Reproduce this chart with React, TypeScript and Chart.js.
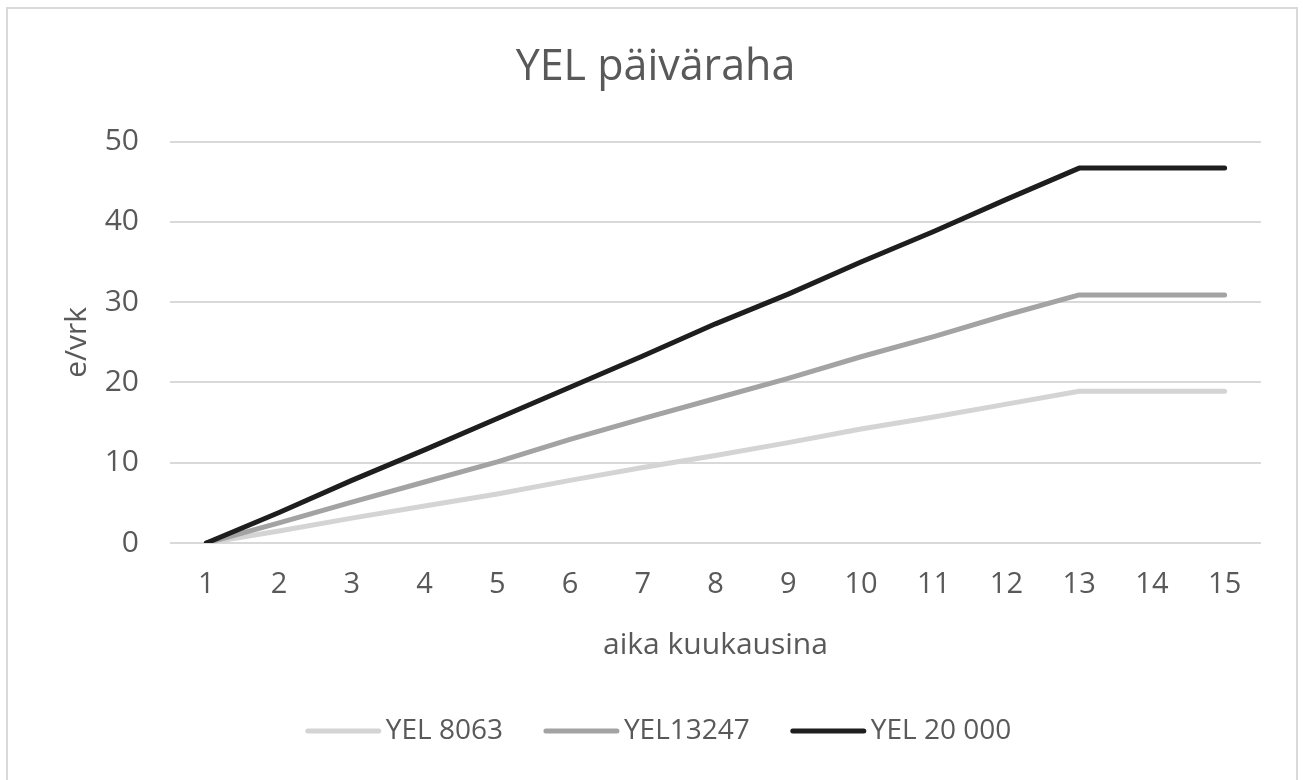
import React, { useEffect, useRef } from "react";
import { Chart, registerables } from "chart.js";

Chart.register(...registerables);

const TITLE = "YEL päiväraha";
const X_TITLE = "aika kuukausina";
const Y_TITLE = "e/vrk";
const months = ["1", "2", "3", "4", "5", "6", "7", "8", "9", "10", "11", "12", "13", "14", "15"];
const seriesNames = ["YEL 8063", "YEL13247", "YEL 20 000"];
const yel8063 = [0, 1.5, 3.1, 4.6, 6.1, 7.8, 9.4, 10.9, 12.5, 14.2, 15.7, 17.3, 18.9, 18.9, 18.9];
const yel13247 = [0, 2.5, 5.1, 7.6, 10.1, 12.9, 15.5, 18.0, 20.5, 23.2, 25.7, 28.4, 30.9, 30.9, 30.9];
const yel20000 = [0, 3.8, 7.8, 11.6, 15.5, 19.4, 23.3, 27.3, 31.0, 35.0, 38.8, 42.8, 46.7, 46.7, 46.7];
const yTicks = [0, 10, 20, 30, 40, 50];

const FONT = "'Open Sans', sans-serif";
const TEXT = "#595959";
const COLORS = ["#d4d4d4", "#a3a3a3", "#1e1e1e"];

const borderPlugin = {
  id: "outerBorder",
  beforeDraw(chart: any) {
    const { ctx, width, height } = chart;
    ctx.save();
    ctx.fillStyle = "#ffffff";
    ctx.fillRect(0, 0, width, height);
    ctx.strokeStyle = "#d9d9d9";
    ctx.lineWidth = 2;
    ctx.strokeRect(7, 8, width - 13, height + 10);
    ctx.restore();
  },
};

const legendPlugin = {
  id: "customLegend",
  afterDraw(chart: any) {
    const { ctx, width } = chart;
    const lineLen = 75;
    const textGap = 5;
    const itemGap = 41;
    const y = 731;
    ctx.save();
    ctx.font = `28px ${FONT}`;
    ctx.textBaseline = "middle";
    ctx.textAlign = "left";
    const ds = chart.data.datasets;
    const widths = ds.map((d: any) => ctx.measureText(d.label).width);
    let total = 0;
    widths.forEach((w: number, i: number) => {
      total += lineLen + textGap + w + (i < widths.length - 1 ? itemGap : 0);
    });
    let x = width / 2 + 7 - total / 2;
    ds.forEach((d: any, i: number) => {
      ctx.strokeStyle = d.borderColor;
      ctx.lineWidth = 5;
      ctx.lineCap = "round";
      ctx.beginPath();
      ctx.moveTo(x + 2, y);
      ctx.lineTo(x + lineLen - 2, y);
      ctx.stroke();
      ctx.fillStyle = TEXT;
      ctx.fillText(d.label, x + lineLen + textGap, y);
      x += lineLen + textGap + widths[i] + itemGap;
    });
    ctx.restore();
  },
};

export default function App() {
  const canvasRef = useRef<HTMLCanvasElement | null>(null);

  useEffect(() => {
    if (!canvasRef.current) return;
    Chart.defaults.font.family = FONT;
    Chart.defaults.color = TEXT;
    const values = [yel8063, yel13247, yel20000];
    const chart = new Chart(canvasRef.current, {
      type: "line",
      data: {
        labels: months,
        datasets: seriesNames.map((name, i) => ({
          label: name,
          data: values[i],
          borderColor: COLORS[i],
          backgroundColor: COLORS[i],
          borderWidth: 5,
          pointRadius: 0,
          pointHoverRadius: 0,
          tension: 0,
          borderCapStyle: "round" as const,
          borderJoinStyle: "round" as const,
          fill: false,
          order: 2 - i,
        })),
      },
      options: {
        animation: false,
        responsive: false,
        maintainAspectRatio: false,
        layout: { padding: { left: 50, right: 42, top: 0, bottom: 107 } },
        plugins: {
          legend: { display: false },
          tooltip: { enabled: false },
          title: {
            display: true,
            text: TITLE,
            color: TEXT,
            font: { size: 43, weight: "normal", family: FONT, lineHeight: 1.2 },
            padding: { top: 42, bottom: 48 },
          },
        },
        scales: {
          x: {
            offset: true,
            grid: { display: false, drawTicks: false },
            border: { display: false },
            ticks: { color: TEXT, font: { size: 29, family: FONT }, padding: 24, maxRotation: 0, autoSkip: false },
            title: {
              display: true,
              text: X_TITLE,
              color: TEXT,
              font: { size: 30, family: FONT, lineHeight: 1.2 },
              padding: { top: 0, bottom: 10 },
            },
            afterFit(scale: any) {
              scale.height = 130;
            },
          },
          y: {
            min: 0,
            max: 50,
            afterBuildTicks(scale: any) {
              scale.ticks = yTicks.map((v) => ({ value: v }));
            },
            grid: { color: "#d9d9d9", lineWidth: 2, drawTicks: false },
            border: { display: false },
            ticks: { color: TEXT, font: { size: 30, family: FONT }, padding: 31 },
            title: {
              display: true,
              text: Y_TITLE,
              color: TEXT,
              font: { size: 30, family: FONT, lineHeight: 1.2 },
              padding: { top: 9, bottom: 0 },
            },
            afterFit(scale: any) {
              scale.width = 120;
            },
          },
        },
      },
      plugins: [borderPlugin, legendPlugin],
    });
    return () => chart.destroy();
  }, []);

  return (
    <div style={{ position: "absolute", left: 0, top: 0, width: 1303, height: 780 }}>
      <canvas ref={canvasRef} width={1303} height={780} style={{ width: 1303, height: 780, display: "block" }} />
    </div>
  );
}
